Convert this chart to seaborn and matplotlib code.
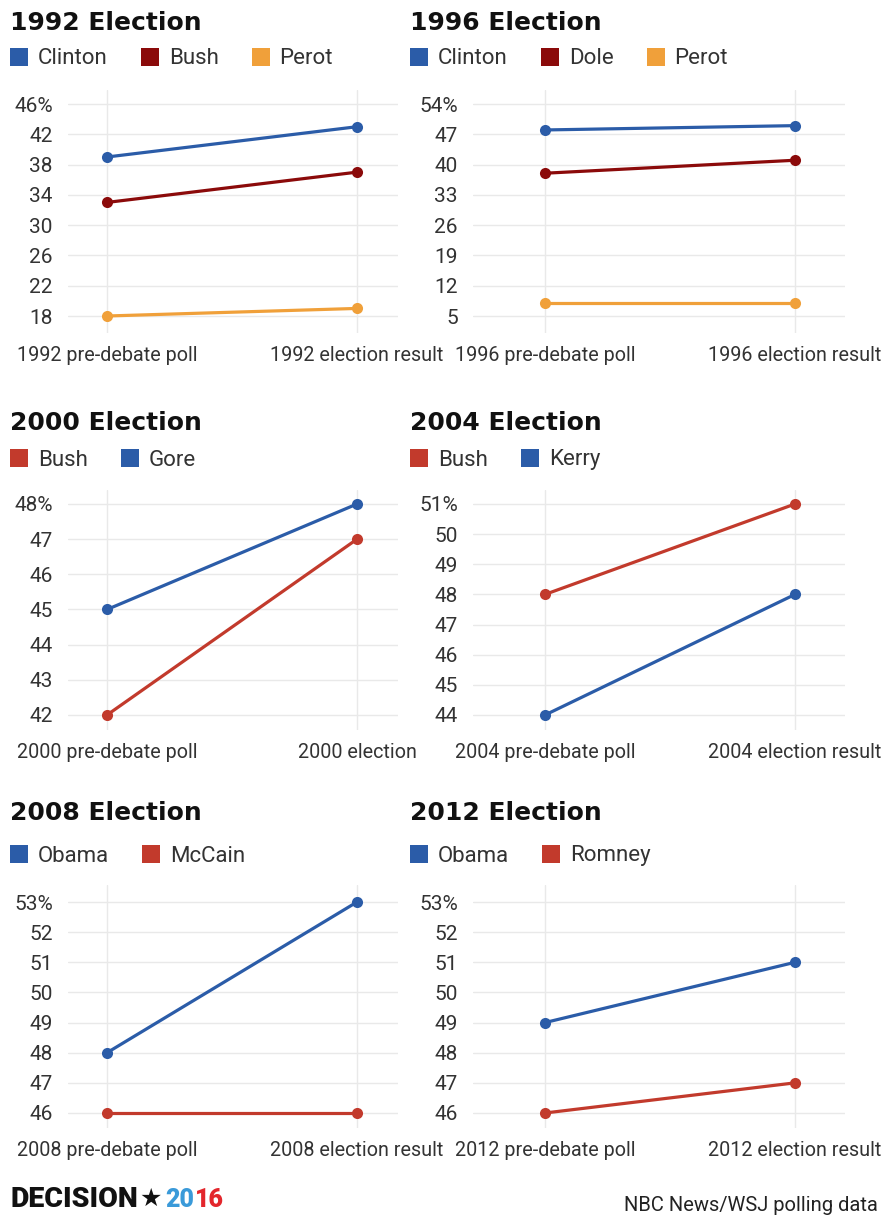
import numpy as np
import pandas as pd
import seaborn as sns
import matplotlib
matplotlib.use("Agg")
import matplotlib.pyplot as plt
from matplotlib.lines import Line2D

# ---------------- data ----------------
stages_1992 = ["1992 pre-debate poll", "1992 election result"]
names_1992 = ["Clinton", "Bush", "Perot"]
clinton_1992 = [39, 43]
bush_1992 = [33, 37]
perot_1992 = [18, 19]
ticks_1992 = [18, 22, 26, 30, 34, 38, 42, 46]

stages_1996 = ["1996 pre-debate poll", "1996 election result"]
names_1996 = ["Clinton", "Dole", "Perot"]
clinton_1996 = [48, 49]
dole_1996 = [38, 41]
perot_1996 = [8, 8]
ticks_1996 = [5, 12, 19, 26, 33, 40, 47, 54]

stages_2000 = ["2000 pre-debate poll", "2000 election"]
names_2000 = ["Bush", "Gore"]
bush_2000 = [42, 47]
gore_2000 = [45, 48]
ticks_2000 = [42, 43, 44, 45, 46, 47, 48]

stages_2004 = ["2004 pre-debate poll", "2004 election result"]
names_2004 = ["Bush", "Kerry"]
bush_2004 = [48, 51]
kerry_2004 = [44, 48]
ticks_2004 = [44, 45, 46, 47, 48, 49, 50, 51]

stages_2008 = ["2008 pre-debate poll", "2008 election result"]
names_2008 = ["Obama", "McCain"]
obama_2008 = [48, 53]
mccain_2008 = [46, 46]
ticks_2008 = [46, 47, 48, 49, 50, 51, 52, 53]

stages_2012 = ["2012 pre-debate poll", "2012 election result"]
names_2012 = ["Obama", "Romney"]
obama_2012 = [49, 51]
romney_2012 = [46, 47]
ticks_2012 = [46, 47, 48, 49, 50, 51, 52, 53]

BLUE = "#2b5ca8"
DARKRED = "#8b0a0a"
ORANGE = "#f0a03a"
RED = "#c23a2c"

panels = [
    dict(title="1992 Election", stages=stages_1992, names=names_1992,
         series=[clinton_1992, bush_1992, perot_1992], colors=[BLUE, DARKRED, ORANGE],
         ticks=ticks_1992, row=0, col=0),
    dict(title="1996 Election", stages=stages_1996, names=names_1996,
         series=[clinton_1996, dole_1996, perot_1996], colors=[BLUE, DARKRED, ORANGE],
         ticks=ticks_1996, row=0, col=1),
    dict(title="2000 Election", stages=stages_2000, names=names_2000,
         series=[bush_2000, gore_2000], colors=[RED, BLUE],
         ticks=ticks_2000, row=1, col=0),
    dict(title="2004 Election", stages=stages_2004, names=names_2004,
         series=[bush_2004, kerry_2004], colors=[RED, BLUE],
         ticks=ticks_2004, row=1, col=1),
    dict(title="2008 Election", stages=stages_2008, names=names_2008,
         series=[obama_2008, mccain_2008], colors=[BLUE, RED],
         ticks=ticks_2008, row=2, col=0),
    dict(title="2012 Election", stages=stages_2012, names=names_2012,
         series=[obama_2012, romney_2012], colors=[BLUE, RED],
         ticks=ticks_2012, row=2, col=1),
]

# ---------------- layout (pixels) ----------------
W, H = 885, 1219
# axes left, axes right, first category x, second category x
col_px = [(68, 398, 107, 357), (473, 845, 545, 795)]
# axes top, axes bottom, top tick y, bottom tick y, title baseline, legend centre
row_px = [(90, 333, 104, 316, 30, 59),
          (490, 730, 504, 715, 430, 460),
          (885, 1128, 902, 1113, 820, 856)]
text_x = [10, 410]

sns.set_style("white")
plt.rcParams["font.family"] = ["Roboto", "DejaVu Sans"]

fig = plt.figure(figsize=(W / 100, H / 100), dpi=100)
fig.patch.set_facecolor("white")

for p in panels:
    x0, x1, c0, c1 = col_px[p["col"]]
    T, B, a, b, tbase, lcen = row_px[p["row"]]
    ax = fig.add_axes([x0 / W, 1 - B / H, (x1 - x0) / W, (B - T) / H])

    rows = []
    for name, vals in zip(p["names"], p["series"]):
        for s, v in zip(p["stages"], vals):
            rows.append({"stage": s, "candidate": name, "value": v})
    df = pd.DataFrame(rows)
    sns.lineplot(data=df, x="stage", y="value", hue="candidate",
                 hue_order=p["names"], palette=dict(zip(p["names"], p["colors"])),
                 marker="o", markersize=8, markeredgewidth=0, linewidth=2.3,
                 sort=False, legend=False, ax=ax)

    ppu = float(c1 - c0)
    ax.set_xlim((x0 - c0) / ppu, (x1 - c0) / ppu)
    ax.set_xticks([0, 1])
    ax.set_xticklabels(p["stages"])

    ticks = p["ticks"]
    tmin, tmax = ticks[0], ticks[-1]
    upp = (tmax - tmin) / float(b - a)
    ax.set_ylim(tmin - (B - b) * upp, tmax + (a - T) * upp)
    ax.set_yticks(ticks)
    labels = [str(t) for t in ticks]
    labels[-1] += "%"
    ax.set_yticklabels(labels)

    ax.set_xlabel("")
    ax.set_ylabel("")
    ax.grid(True, color="#e9e9e9", linewidth=1)
    ax.set_axisbelow(True)
    sns.despine(ax=ax, left=True, bottom=True)
    ax.tick_params(axis="both", length=0, labelcolor="#333333")
    ax.tick_params(axis="x", pad=9.5, labelsize=14.2)
    ax.tick_params(axis="y", pad=11, labelsize=15)

    tx = text_x[p["col"]]
    fig.text(tx / W, 1 - tbase / H, p["title"], fontsize=18, fontweight="bold",
             family=["DejaVu Sans"], va="baseline", ha="left", color="#111111")

    handles = [Line2D([], [], marker="s", linestyle="", markersize=13,
                      markeredgewidth=0, color=c) for c in p["colors"]]
    fig.legend(handles, p["names"], loc="center left",
               bbox_to_anchor=(tx / W, 1 - lcen / H), ncol=len(p["names"]),
               frameon=False, fontsize=16, handlelength=0.8, handletextpad=0.45,
               columnspacing=1.5, borderpad=0, borderaxespad=0,
               labelcolor="#333333")

# ---------------- footer ----------------
renderer = fig.canvas.get_renderer()
base = 1 - 1207 / H
t1 = fig.text(10 / W, base, "DECISION", fontsize=20.5, fontweight="black",
              family=["Roboto", "DejaVu Sans"], va="baseline", ha="left", color="#111111")
bb = t1.get_window_extent(renderer)
t2 = fig.text((bb.x1 + 2) / W, base + 1 / H, "★", fontsize=18,
              family=["DejaVu Sans"], va="baseline", ha="left", color="#111111")
bb = t2.get_window_extent(renderer)
t3 = fig.text((bb.x1 + 3) / W, base, "20", fontsize=18, fontweight="black",
              family=["Roboto", "DejaVu Sans"], va="baseline", ha="left", color="#3a9ad9")
bb = t3.get_window_extent(renderer)
fig.text((bb.x1 + 0.5) / W, base, "16", fontsize=18, fontweight="black",
         family=["Roboto", "DejaVu Sans"], va="baseline", ha="left", color="#e3262c")

fig.text(878 / W, 1 - 1211 / H, "NBC News/WSJ polling data", fontsize=14.5,
         va="baseline", ha="right", color="#222222")

fig.savefig("out.png", dpi=100, facecolor="white")
